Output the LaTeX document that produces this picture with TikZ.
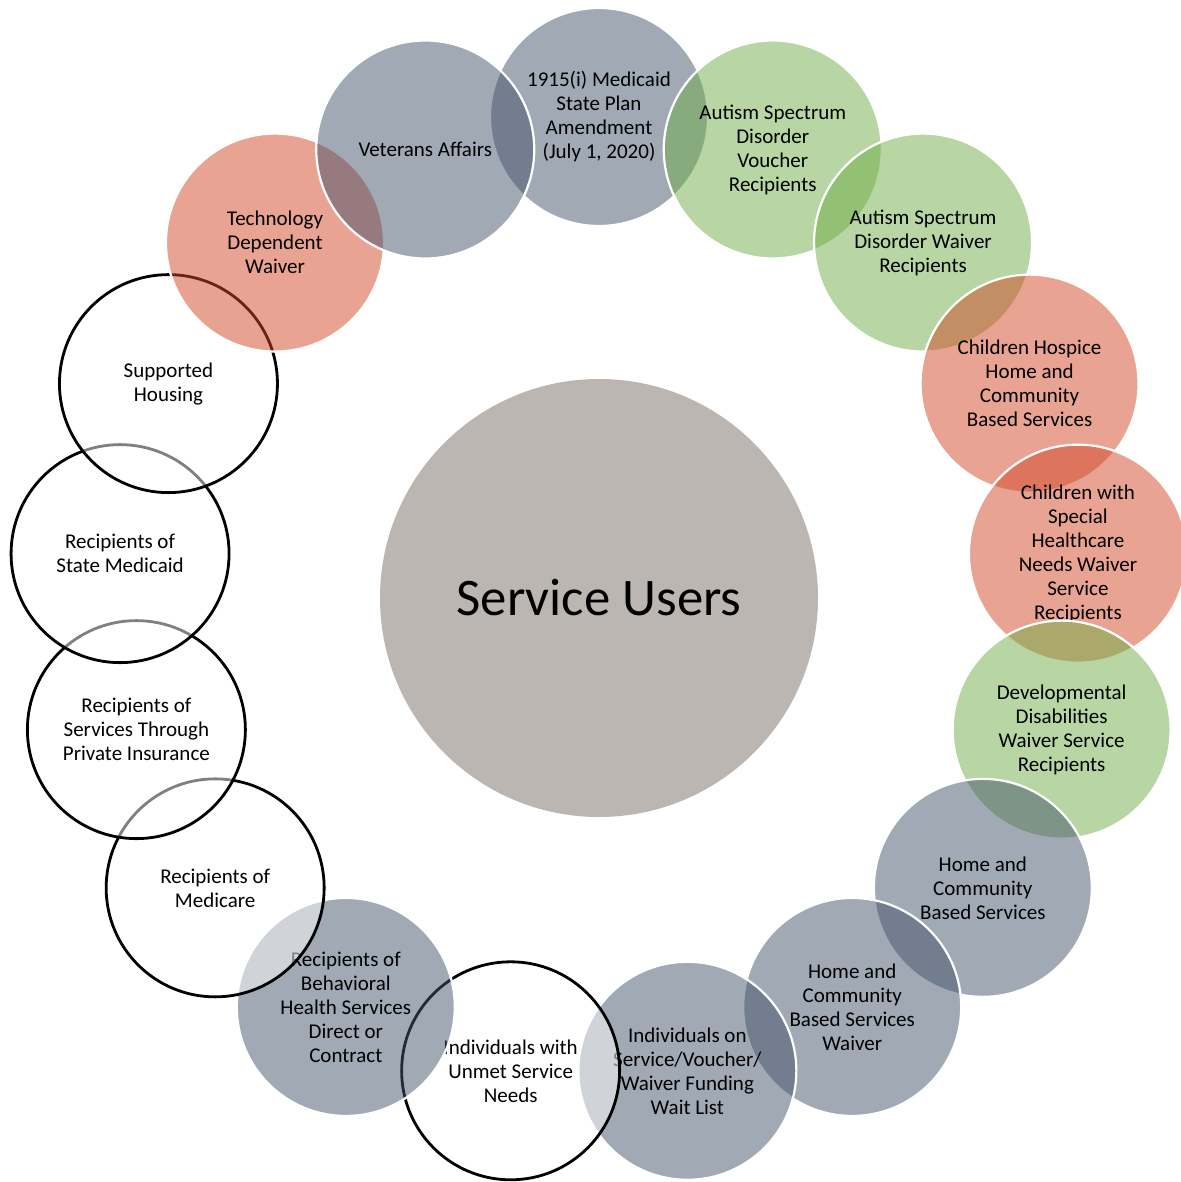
\documentclass[tikz,border=0pt]{standalone}
\usepackage{fontspec}
\setmainfont{Carlito}
\usetikzlibrary{calc}
\definecolor{vgray}{RGB}{68,84,106}
\definecolor{vgreen}{RGB}{112,173,71}
\definecolor{vred}{RGB}{210,71,38}
\definecolor{vcenter}{RGB}{187,182,178}
\begin{document}
\begin{tikzpicture}[x=0.5pt,y=-0.5pt,
  sat/.style={circle, minimum size=109pt, inner sep=0pt, align=center,
    font=\fontsize{10.5}{12}\selectfont, text=black, text opacity=1},
  colc/.style={sat, fill=#1, fill opacity=0.5, draw=white, line width=1.1pt},
  whc/.style={sat, fill=white, fill opacity=0.5, draw=black, line width=1.4pt}]
\path[use as bounding box] (0,0) rectangle (1181,1182);
\clip (0,0) rectangle (1181,1182);
\coordinate (C) at (599,598);
\node[circle, fill=vcenter, minimum size=219pt, inner sep=0pt,
  font=\fontsize{26.4}{30}\selectfont] (center) at (C) {Service Users};
\node[colc=vgray] (s0) at ($(C)+({-90+0*360/17}:481)$) {1915(i) Medicaid\\State Plan\\Amendment\\(July 1, 2020)};
\node[colc=vgreen] (s1) at ($(C)+({-90+1*360/17}:481)$) {Autism Spectrum\\Disorder\\Voucher\\Recipients};
\node[colc=vgreen] (s2) at ($(C)+({-90+2*360/17}:481)$) {Autism Spectrum\\Disorder Waiver\\Recipients};
\node[colc=vred] (s3) at ($(C)+({-90+3*360/17}:481)$) {Children Hospice\\Home and\\Community\\Based Services};
\node[colc=vred] (s4) at ($(C)+({-90+4*360/17}:481)$) {Children with\\Special\\Healthcare\\Needs Waiver\\Service\\Recipients};
\node[colc=vgreen] (s5) at ($(C)+({-90+5*360/17}:481)$) {Developmental\\Disabilities\\Waiver Service\\Recipients};
\node[colc=vgray] (s6) at ($(C)+({-90+6*360/17}:481)$) {Home and\\Community\\Based Services};
\node[colc=vgray] (s7) at ($(C)+({-90+7*360/17}:481)$) {Home and\\Community\\Based Services\\Waiver};
\node[colc=vgray] (s8) at ($(C)+({-90+8*360/17}:481)$) {Individuals on\\Service/Voucher/\\Waiver Funding\\Wait List};
\node[whc] (s9) at ($(C)+({-90+9*360/17}:481)$) {Individuals with\\Unmet Service\\Needs};
\node[colc=vgray] (s10) at ($(C)+({-90+10*360/17}:481)$) {Recipients of\\Behavioral\\Health Services\\Direct or\\Contract};
\node[whc] (s11) at ($(C)+({-90+11*360/17}:481)$) {Recipients of\\Medicare};
\node[whc] (s12) at ($(C)+({-90+12*360/17}:481)$) {Recipients of\\Services Through\\Private Insurance};
\node[whc] (s13) at ($(C)+({-90+13*360/17}:481)$) {Recipients of\\State Medicaid};
\node[whc] (s14) at ($(C)+({-90+14*360/17}:481)$) {Supported\\Housing};
\node[colc=vred] (s15) at ($(C)+({-90+15*360/17}:481)$) {Technology\\Dependent\\Waiver};
\node[colc=vgray] (s16) at ($(C)+({-90+16*360/17}:481)$) {Veterans Affairs};
\end{tikzpicture}
\end{document}
